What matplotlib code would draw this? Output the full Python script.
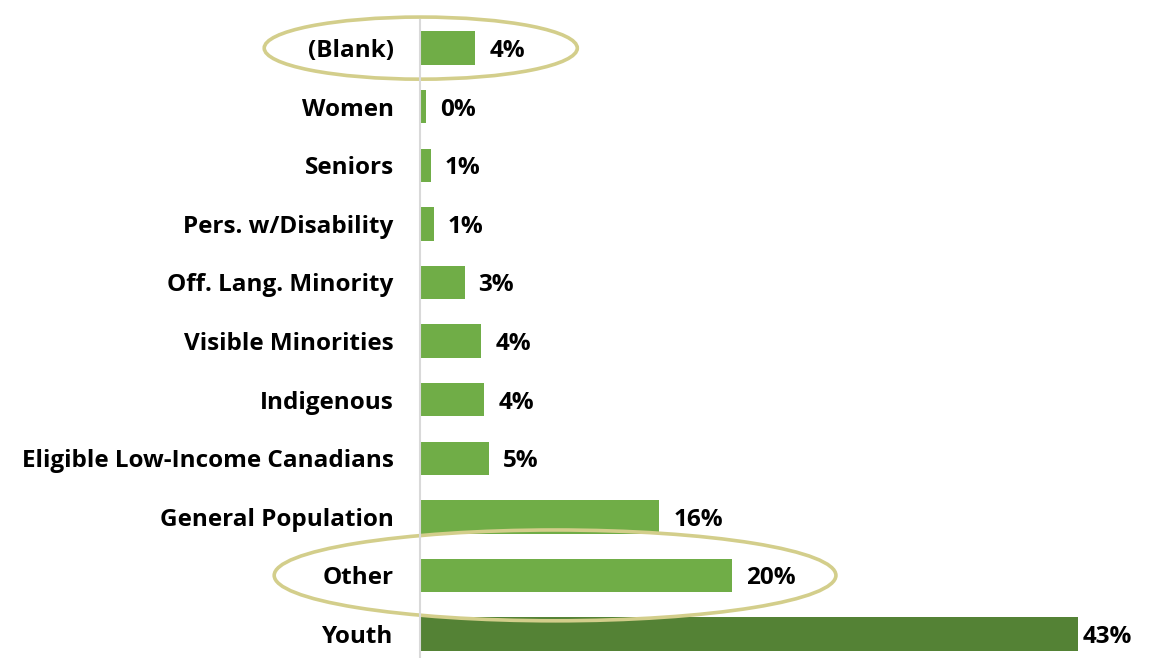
import matplotlib.pyplot as plt
from matplotlib.patches import Ellipse

# Data (bottom to top)
categories = ['Youth', 'Other', 'General Population', 'Eligible Low-Income Canadians',
              'Indigenous', 'Visible Minorities', 'Off. Lang. Minority',
              'Pers. w/Disability', 'Seniors', 'Women', '(Blank)']
values = [42.9, 20.3, 15.6, 4.5, 4.2, 4.0, 2.9, 0.9, 0.7, 0.4, 3.6]
labels = ['43%', '20%', '16%', '5%', '4%', '4%', '3%', '1%', '1%', '0%', '4%']
highlighted = ['(Blank)', 'Other']

plt.rcParams['font.family'] = ['Open Sans', 'DejaVu Sans']
plt.rcParams['font.weight'] = 'bold'

fig = plt.figure(figsize=(11.62, 6.58), dpi=100)
ax = fig.add_axes([420 / 1162, 0, 706 / 1162, 638 / 658])

colors = ['#548235' if c == 'Youth' else '#70ad47' for c in categories]
ypos = list(range(len(categories)))
ax.barh(ypos, values, height=0.57, color=colors)

for y, v, lab in zip(ypos, values, labels):
    off = 4 if lab == '43%' else 14
    ax.annotate(lab, (v, y), xytext=(off, -3), textcoords='offset pixels',
                ha='left', va='center', fontsize=17.5, fontweight='bold')

ax.set_xlim(0, 46)
ax.set_ylim(-0.41, 10.48)
ax.set_yticks(ypos)
ax.set_yticklabels(categories, fontsize=17.5, fontweight='bold')
ax.tick_params(axis='y', length=0, pad=19)
ax.set_xticks([])
for s in ['top', 'right', 'bottom']:
    ax.spines[s].set_visible(False)
ax.spines['left'].set_color('#d9d9d9')
ax.spines['left'].set_linewidth(1.5)

# highlight ellipses
ell = {'(Blank)': (0.05, 20.4, 1.06), 'Other': (8.8, 36.6, 1.55)}
for name in highlighted:
    cx, w, h = ell[name]
    y = categories.index(name)
    ax.add_patch(Ellipse((cx, y), w, h, fill=False, edgecolor='#d3ce8b',
                         linewidth=2.6, clip_on=False))

fig.savefig('out.png', dpi=100)
